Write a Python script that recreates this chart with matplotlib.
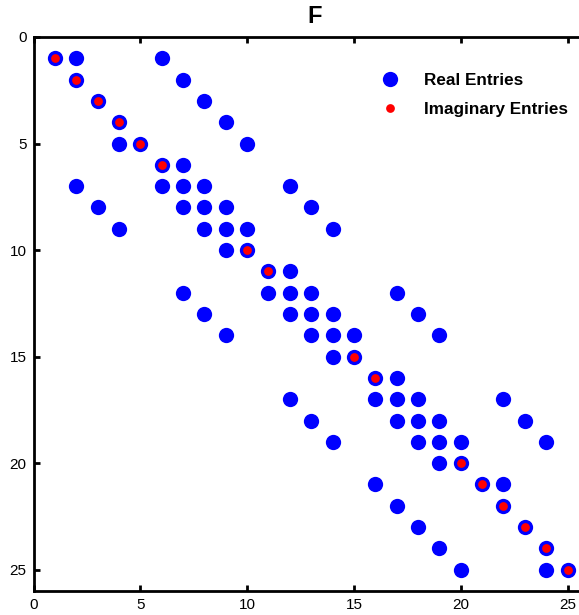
import matplotlib.pyplot as plt

plt.rcParams['font.family'] = ['Liberation Sans', 'DejaVu Sans']

# nonzero pattern of F (row -> columns)
real_pattern = {
    1: [1, 2, 6],
    2: [2, 7],
    3: [3, 8],
    4: [4, 9],
    5: [4, 5, 10],
    6: [6, 7],
    7: [2, 6, 7, 8, 12],
    8: [3, 7, 8, 9, 13],
    9: [4, 8, 9, 10, 14],
    10: [9, 10],
    11: [11, 12],
    12: [7, 11, 12, 13, 17],
    13: [8, 12, 13, 14, 18],
    14: [9, 13, 14, 15, 19],
    15: [14, 15],
    16: [16, 17],
    17: [12, 16, 17, 18, 22],
    18: [13, 17, 18, 19, 23],
    19: [14, 18, 19, 20, 24],
    20: [19, 20],
    21: [16, 21, 22],
    22: [17, 22],
    23: [18, 23],
    24: [19, 24],
    25: [20, 24, 25],
}
imag_diag = [1, 2, 3, 4, 5, 6, 10, 11, 15, 16, 20, 21, 22, 23, 24, 25]

real_rows = [r for r, cols in real_pattern.items() for c in cols]
real_cols = [c for r, cols in real_pattern.items() for c in cols]
imag_rows = imag_diag
imag_cols = imag_diag

fig = plt.figure(figsize=(5.79, 6.15), dpi=100)
ax = fig.add_axes([33.5 / 579, 24 / 615, 555.4 / 579, 554 / 615])

ax.plot(real_cols, real_rows, 'o', color='#0000ff', ms=11, mew=0,
        label='Real Entries')
ax.plot(imag_cols, imag_rows, 'o', color='#ff0000', ms=6.3, mew=0,
        label='Imaginary Entries')

ax.set_xlim(0, 26)
ax.set_ylim(26, 0)
ax.set_xticks([0, 5, 10, 15, 20, 25])
ax.set_yticks([0, 5, 10, 15, 20, 25])
ax.tick_params(direction='in', length=4, width=2, labelsize=11,
               top=True, right=False, pad=5)
for side in ['left', 'bottom', 'top']:
    ax.spines[side].set_linewidth(2)
ax.spines['right'].set_visible(False)

ax.set_title('F', fontsize=17, fontweight='bold', pad=10, x=0.507)

ax.legend(loc='upper left', bbox_to_anchor=(0.583, 0.962), frameon=False,
          prop={'size': 12.3, 'weight': 'bold'}, handletextpad=1.0,
          labelspacing=0.78, markerscale=1)

fig.savefig('out.png', dpi=100)
